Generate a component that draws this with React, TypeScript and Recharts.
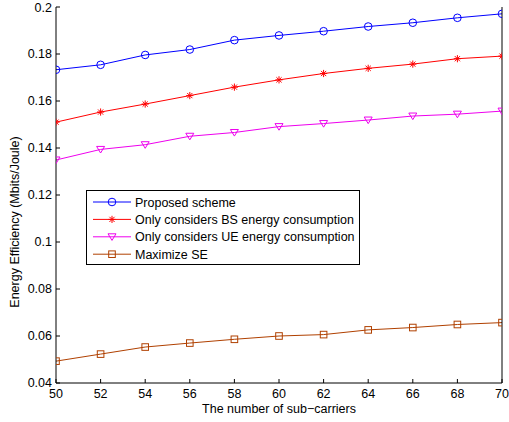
import React from 'react';
import { LineChart, Line, XAxis, YAxis, Legend, Label } from 'recharts';

const subCarriers = [50, 52, 54, 56, 58, 60, 62, 64, 66, 68, 70];
const proposed = [0.1733, 0.1754, 0.1796, 0.1819, 0.1859, 0.1879, 0.1897, 0.1917, 0.1933, 0.1954, 0.1971];
const bsOnly = [0.151, 0.1553, 0.1587, 0.1623, 0.1659, 0.169, 0.1717, 0.1739, 0.1757, 0.178, 0.1791];
const ueOnly = [0.1349, 0.1394, 0.1414, 0.145, 0.1466, 0.1491, 0.1504, 0.1519, 0.1536, 0.1544, 0.1557];
const maxSE = [0.0493, 0.0523, 0.0553, 0.057, 0.0586, 0.06, 0.0606, 0.0626, 0.0636, 0.0649, 0.0657];
const yTicks = [0.04, 0.06, 0.08, 0.1, 0.12, 0.14, 0.16, 0.18, 0.2];
const xTicks = [50, 52, 54, 56, 58, 60, 62, 64, 66, 68, 70];
const seriesNames = [
  'Proposed scheme',
  'Only considers BS energy consumption',
  'Only considers UE energy consumption',
  'Maximize SE',
];

const data = subCarriers.map((n, i) => ({
  n,
  proposed: proposed[i],
  bsOnly: bsOnly[i],
  ueOnly: ueOnly[i],
  maxSE: maxSE[i],
}));

const FONT = 'Liberation Sans, Arial, Helvetica, sans-serif';
const BLUE = '#0000FF';
const RED = '#FF0000';
const MAGENTA = '#EE00EE';
const BROWN = '#B04000';

type Kind = 'circle' | 'star' | 'tri' | 'square';

function Marker({ kind, cx, cy, color }: { kind: Kind; cx: number; cy: number; color: string }) {
  if (cx == null || cy == null) return null;
  if (kind === 'circle') return <circle cx={cx} cy={cy} r={3.8} fill="none" stroke={color} strokeWidth={1} />;
  if (kind === 'square')
    return <rect x={cx - 3.3} y={cy - 3.3} width={6.6} height={6.6} fill="none" stroke={color} strokeWidth={1} />;
  if (kind === 'tri')
    return (
      <polygon
        points={`${cx - 4},${cy - 3} ${cx + 4},${cy - 3} ${cx},${cy + 3.6}`}
        fill="none"
        stroke={color}
        strokeWidth={1}
      />
    );
  const s = 3.6;
  const d = 2.6;
  return (
    <g stroke={color} strokeWidth={1}>
      <line x1={cx - s} y1={cy} x2={cx + s} y2={cy} />
      <line x1={cx} y1={cy - s} x2={cx} y2={cy + s} />
      <line x1={cx - d} y1={cy - d} x2={cx + d} y2={cy + d} />
      <line x1={cx - d} y1={cy + d} x2={cx + d} y2={cy - d} />
    </g>
  );
}

const seriesDefs: { key: string; color: string; kind: Kind }[] = [
  { key: 'proposed', color: BLUE, kind: 'circle' },
  { key: 'bsOnly', color: RED, kind: 'star' },
  { key: 'ueOnly', color: MAGENTA, kind: 'tri' },
  { key: 'maxSE', color: BROWN, kind: 'square' },
];

function LegendBox() {
  const w = 274;
  const h = 75;
  return (
    <svg width={w} height={h} style={{ display: 'block' }}>
      <rect x={0.5} y={0.5} width={w - 1} height={h - 1} fill="#fff" stroke="#000" strokeWidth={1} />
      {seriesDefs.map((s, i) => {
        const y = 12 + i * 17.4;
        return (
          <g key={s.key}>
            <line x1={7} y1={y} x2={45} y2={y} stroke={s.color} strokeWidth={1} />
            <Marker kind={s.kind} cx={26} cy={y} color={s.color} />
            <text x={49} y={y + 4.5} fontFamily={FONT} fontSize={12.5} fill="#000">
              {seriesNames[i]}
            </text>
          </g>
        );
      })}
    </svg>
  );
}

const fmtY = (v: number) => String(Number(v.toFixed(2)));

export default function App() {
  return (
    <div style={{ position: 'absolute', left: 0, top: 0, width: 509, height: 422, background: '#fff' }}>
      <LineChart width={509} height={422} data={data} margin={{ top: 7, right: 0, bottom: 0, left: 0 }}>
        <XAxis
          dataKey="n"
          type="number"
          domain={[50, 70]}
          ticks={xTicks}
          height={39}
          tickSize={-4}
          tickMargin={10}
          stroke="#000"
          tick={{ fill: '#000', fontFamily: FONT, fontSize: 12.5 }}
          allowDataOverflow
        >
          <Label
            value={'The number of sub\u2212carriers'}
            position="insideBottom"
            offset={9}
            style={{ fill: '#000', fontFamily: FONT, fontSize: 12.5 }}
          />
        </XAxis>
        <XAxis
          xAxisId="top"
          dataKey="n"
          type="number"
          orientation="top"
          domain={[50, 70]}
          ticks={xTicks}
          height={0}
          tickSize={-4}
          tickFormatter={() => ''}
          stroke="#000"
        />
        <YAxis
          type="number"
          domain={[0.04, 0.2]}
          ticks={yTicks}
          width={56}
          tickSize={-4}
          tickMargin={8}
          tickFormatter={fmtY}
          stroke="#000"
          tick={{ fill: '#000', fontFamily: FONT, fontSize: 12.5 }}
          allowDataOverflow
        >
          <Label
            content={() => (
              <text
                x={19}
                y={222}
                transform="rotate(-90 19 222)"
                textAnchor="middle"
                fontFamily={FONT}
                fontSize={12.5}
                fill="#000"
              >
                Energy Efficiency (Mbits/Joule)
              </text>
            )}
          />
        </YAxis>
        <YAxis
          yAxisId="right"
          orientation="right"
          type="number"
          domain={[0.04, 0.2]}
          ticks={yTicks}
          width={7}
          tickSize={-4}
          tickFormatter={() => ''}
          stroke="#000"
        />
        {seriesDefs.map((s, i) => (
          <Line
            key={s.key}
            dataKey={s.key}
            name={seriesNames[i]}
            stroke={s.color}
            strokeWidth={1}
            isAnimationActive={false}
            dot={(p: any) => <Marker key={`${s.key}-${p.index}`} kind={s.kind} cx={p.cx} cy={p.cy} color={s.color} />}
            activeDot={false}
          />
        ))}
        <Legend
          layout="vertical"
          align="center"
          verticalAlign="middle"
          wrapperStyle={{ position: 'absolute', left: 86, top: 190, width: 274, height: 75 }}
          content={() => <LegendBox />}
        />
      </LineChart>
    </div>
  );
}
